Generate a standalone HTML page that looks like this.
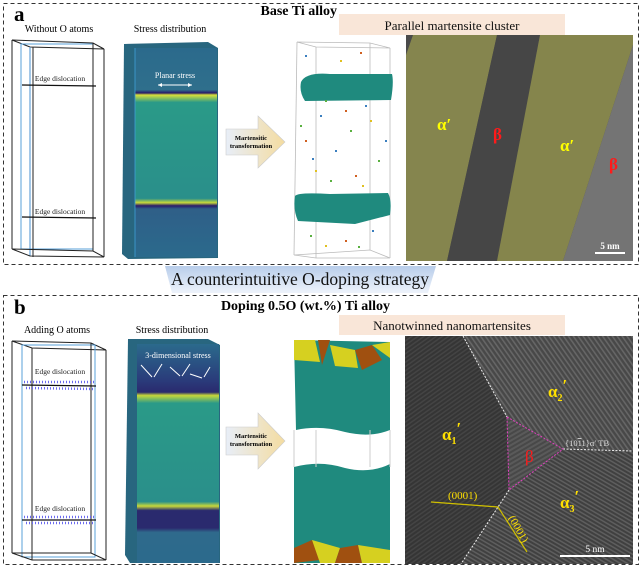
<!DOCTYPE html>
<html><head><meta charset="utf-8"><style>
html,body{margin:0;padding:0;background:#fff;width:641px;height:567px;overflow:hidden}
svg{display:block}
text{font-family:"Liberation Serif",serif}
</style></head><body>
<svg width="641" height="567" viewBox="0 0 641 567" xmlns="http://www.w3.org/2000/svg">
<defs>
<linearGradient id="stressA" x1="0" y1="0" x2="0" y2="1">
<stop offset="0" stop-color="#2b6a8c"/><stop offset="0.2" stop-color="#2f6f8c"/>
<stop offset="0.215" stop-color="#2a1a6a"/><stop offset="0.225" stop-color="#d8e03a"/>
<stop offset="0.26" stop-color="#2a9a88"/><stop offset="0.72" stop-color="#2a8f8a"/>
<stop offset="0.74" stop-color="#c8d83a"/><stop offset="0.755" stop-color="#2a1a6a"/>
<stop offset="0.77" stop-color="#2f5f88"/><stop offset="1" stop-color="#2b6a8c"/>
</linearGradient>
<linearGradient id="stressB" x1="0" y1="0" x2="0" y2="1">
<stop offset="0" stop-color="#2b6a8c"/><stop offset="0.17" stop-color="#2a3a7a"/>
<stop offset="0.22" stop-color="#2a2a6e"/><stop offset="0.235" stop-color="#c8d83a"/>
<stop offset="0.27" stop-color="#2a9a88"/><stop offset="0.72" stop-color="#2a8f8a"/>
<stop offset="0.74" stop-color="#c8d83a"/><stop offset="0.76" stop-color="#2a2a6e"/>
<stop offset="0.84" stop-color="#2a2a6e"/><stop offset="0.86" stop-color="#2f6a8c"/>
<stop offset="1" stop-color="#2b6a8c"/>
</linearGradient>
<linearGradient id="arrowG" x1="0" y1="0" x2="1" y2="0">
<stop offset="0" stop-color="#e8eef8"/><stop offset="1" stop-color="#f4dca0"/>
</linearGradient>
<linearGradient id="banner" x1="0" y1="0" x2="0" y2="1">
<stop offset="0" stop-color="#b8cdea"/><stop offset="1" stop-color="#eef3fb"/>
</linearGradient>
<pattern id="lat1" width="4" height="4" patternUnits="userSpaceOnUse" patternTransform="rotate(60)">
<rect width="4" height="4" fill="#484848"/><rect width="2" height="4" fill="#5a5a5a"/></pattern>
<pattern id="lat2" width="4" height="4" patternUnits="userSpaceOnUse" patternTransform="rotate(-35)">
<rect width="4" height="4" fill="#484848"/><rect width="1.6" height="4" fill="#666"/></pattern>
<pattern id="lat3" width="3.5" height="3.5" patternUnits="userSpaceOnUse" patternTransform="rotate(55)">
<rect width="4" height="4" fill="#353535"/><rect width="1.5" height="4" fill="#444"/></pattern>
<pattern id="lat4" width="3.5" height="3.5" patternUnits="userSpaceOnUse" patternTransform="rotate(-60)">
<rect width="4" height="4" fill="#404040"/><rect width="1.5" height="4" fill="#5e5e5e"/></pattern>
</defs>

<rect x="3.5" y="3.5" width="635" height="261" fill="none" stroke="#333" stroke-dasharray="4,3"/>
<rect x="3.5" y="295.5" width="635" height="269" fill="none" stroke="#333" stroke-dasharray="4,3"/>

<polygon points="165,266 436,266 428,293 172,293" fill="url(#banner)"/>
<text x="300" y="285" font-size="17.5" text-anchor="middle" fill="#111">A counterintuitive O-doping strategy</text>

<!-- ===== Panel a ===== -->
<text x="14" y="21" font-size="21" font-weight="bold">a</text>
<text x="337" y="15" font-size="14" font-weight="bold" text-anchor="end">Base Ti alloy</text>
<text x="59" y="32" font-size="10" text-anchor="middle">Without O atoms</text>
<text x="170" y="32" font-size="10" text-anchor="middle">Stress distribution</text>

<g fill="none" stroke-width="1">
<polygon points="12,40 93,43 104,49 30,47" stroke="#222"/>
<rect x="21" y="44" width="72" height="205" stroke="#5aa0d8"/>
<line x1="30" y1="47" x2="30" y2="256" stroke="#4a90d0"/>
<line x1="12" y1="40" x2="12" y2="249" stroke="#222"/>
<line x1="104" y1="49" x2="104" y2="257" stroke="#222"/>
<line x1="33" y1="47" x2="33" y2="257" stroke="#222"/>
<line x1="93" y1="43" x2="93" y2="251" stroke="#222"/>
<polygon points="12,249 93,251 104,257 30,256" stroke="#222"/>
<line x1="22" y1="85" x2="96" y2="86" stroke="#111" stroke-width="1.2"/>
<line x1="22" y1="217" x2="96" y2="218" stroke="#111" stroke-width="1.2"/>
</g>
<text x="60" y="81" font-size="7.5" text-anchor="middle" fill="#222">Edge dislocation</text>
<text x="60" y="214" font-size="7.5" text-anchor="middle" fill="#222">Edge dislocation</text>

<polygon points="124,44 208,42 218,48 218,258 128,259 122,254" fill="#28667f"/>
<rect x="135" y="48" width="82" height="209" fill="url(#stressA)"/>
<line x1="135" y1="48" x2="135" y2="257" stroke="#3fa0d8" stroke-width="0.8"/>
<text x="175" y="78" font-size="8" text-anchor="middle" fill="#fff">Planar stress</text>
<line x1="158" y1="85" x2="192" y2="85" stroke="#fff" stroke-width="1"/>
<path d="M158,85 l4,-2 v4z M192,85 l-4,-2 v4z" fill="#fff"/>

<polygon points="226,129 258,129 258,116 285,142 258,168 258,155 226,155" fill="url(#arrowG)" stroke="#ccc" stroke-width="0.6"/>
<text x="251" y="140" font-size="6.5" font-weight="bold" text-anchor="middle">Martensitic</text>
<text x="251" y="148" font-size="6.5" font-weight="bold" text-anchor="middle">transformation</text>

<g fill="none" stroke="#bbb" stroke-width="0.8">
<polygon points="297,42 370,43 390,48 316,47"/>
<line x1="297" y1="42" x2="294" y2="255"/>
<line x1="390" y1="48" x2="390" y2="258"/>
<line x1="316" y1="47" x2="316" y2="258"/>
<line x1="370" y1="43" x2="370" y2="250"/>
<polygon points="294,255 370,250 390,258 316,258"/>
</g>
<path d="M301,82 Q306,72 330,74 L392,74 Q394,82 391,100 L305,101 Q299,92 301,82Z" fill="#1f8a7e"/>
<path d="M295,196 Q298,192 330,194 L388,193 Q392,200 390,215 L355,224 L298,221 Q293,210 295,196Z" fill="#1f8a7e"/>
<g fill="#3b7fbf">
<rect x="305" y="55" width="2" height="2"/><rect x="340" y="60" width="2" height="2" fill="#e0c020"/><rect x="360" y="52" width="2" height="2" fill="#d06020"/>
<rect x="320" y="115" width="2" height="2"/><rect x="350" y="130" width="2" height="2" fill="#5ab040"/><rect x="370" y="120" width="2" height="2" fill="#e0c020"/>
<rect x="305" y="140" width="2" height="2" fill="#d06020"/><rect x="335" y="150" width="2" height="2"/><rect x="378" y="160" width="2" height="2" fill="#5ab040"/>
<rect x="315" y="170" width="2" height="2" fill="#e0c020"/><rect x="355" y="175" width="2" height="2" fill="#d06020"/><rect x="330" y="180" width="2" height="2" fill="#5ab040"/>
<rect x="310" y="235" width="2" height="2" fill="#5ab040"/><rect x="345" y="240" width="2" height="2" fill="#d06020"/><rect x="372" y="230" width="2" height="2"/>
<rect x="325" y="100" width="2" height="2" fill="#5ab040"/><rect x="365" y="105" width="2" height="2"/><rect x="300" y="125" width="2" height="2" fill="#5ab040"/>
<rect x="345" y="110" width="2" height="2" fill="#d06020"/><rect x="385" y="140" width="2" height="2"/><rect x="312" y="158" width="2" height="2"/>
<rect x="362" y="185" width="2" height="2" fill="#e0c020"/><rect x="325" y="245" width="2" height="2" fill="#e0c020"/><rect x="358" y="246" width="2" height="2" fill="#5ab040"/>
</g>

<rect x="339" y="14" width="226" height="21" fill="#f9e6d8"/>
<text x="452" y="30" font-size="13" text-anchor="middle" fill="#111">Parallel martensite cluster</text>

<rect x="406" y="35" width="227" height="226" fill="#4a4a4a"/>
<polygon points="413,35 497,35 447,261 406,261 406,55" fill="#85854e"/>
<polygon points="497,35 540,35 497,261 447,261" fill="#464646"/>
<polygon points="540,35 633,35 633,45 563,261 497,261" fill="#85854c"/>
<polygon points="633,45 633,261 563,261" fill="#747474"/>
<text x="437" y="130" font-size="17" fill="#ffff00" font-weight="bold">α′</text>
<text x="493" y="140" font-size="17" fill="#ff1a1a" font-weight="bold">β</text>
<text x="560" y="151" font-size="17" fill="#ffff00" font-weight="bold">α′</text>
<text x="609" y="170" font-size="17" fill="#ff1a1a" font-weight="bold">β</text>
<line x1="595" y1="253" x2="625" y2="253" stroke="#fff" stroke-width="2"/>
<text x="610" y="249" font-size="9" font-weight="bold" fill="#fff" text-anchor="middle">5 nm</text>

<!-- ===== Panel b ===== -->
<text x="14" y="314" font-size="21" font-weight="bold">b</text>
<text x="390" y="310" font-size="14" font-weight="bold" text-anchor="end">Doping 0.5O (wt.%) Ti alloy</text>
<text x="57" y="333" font-size="10" text-anchor="middle">Adding O atoms</text>
<text x="172" y="333" font-size="10" text-anchor="middle">Stress distribution</text>

<g fill="none" stroke-width="1">
<polygon points="12,341 91,343 106,350 32,348" stroke="#222"/>
<rect x="22" y="345" width="73" height="212" stroke="#5aa0d8"/>
<line x1="32" y1="348" x2="32" y2="560" stroke="#222"/>
<line x1="12" y1="341" x2="12" y2="553" stroke="#222"/>
<line x1="106" y1="350" x2="106" y2="560" stroke="#222"/>
<line x1="91" y1="343" x2="91" y2="553" stroke="#222"/>
<polygon points="12,553 91,553 106,560 32,560" stroke="#222"/>
<line x1="22" y1="385" x2="96" y2="386" stroke="#111" stroke-width="1.2"/>
<line x1="22" y1="520" x2="96" y2="520" stroke="#111" stroke-width="1.2"/>
</g>
<g stroke="#6a6af0" stroke-width="2.5" stroke-dasharray="1,2">
<line x1="24" y1="382" x2="95" y2="382"/><line x1="26" y1="388" x2="94" y2="389"/>
<line x1="24" y1="517" x2="95" y2="517"/><line x1="26" y1="523" x2="94" y2="523"/>
</g>
<text x="60" y="374" font-size="7.5" text-anchor="middle" fill="#222">Edge dislocation</text>
<text x="60" y="511" font-size="7.5" text-anchor="middle" fill="#222">Edge dislocation</text>

<polygon points="128,339 208,339 220,345 220,563 130,563 125,555" fill="#28667f"/>
<rect x="137" y="344" width="82" height="219" fill="url(#stressB)"/>
<text x="178" y="358" font-size="8" text-anchor="middle" fill="#fff">3-dimensional stress</text>
<g stroke="#fff" stroke-width="1">
<line x1="141" y1="365" x2="152" y2="377"/><line x1="162" y1="364" x2="154" y2="377"/>
<line x1="170" y1="367" x2="180" y2="376"/><line x1="190" y1="364" x2="182" y2="376"/>
<line x1="190" y1="374" x2="202" y2="378"/><line x1="210" y1="367" x2="204" y2="377"/>
</g>

<polygon points="226,427 258,427 258,413 285,441 258,469 258,455 226,455" fill="url(#arrowG)" stroke="#ccc" stroke-width="0.6"/>
<text x="251" y="438" font-size="6.5" font-weight="bold" text-anchor="middle">Martensitic</text>
<text x="251" y="446" font-size="6.5" font-weight="bold" text-anchor="middle">transformation</text>

<path d="M294,340 L390,342 L390,430 Q370,438 345,432 Q320,425 296,430 Z" fill="#1f8a7e"/>
<polygon points="294,340 315,340 320,362 294,360" fill="#d6d020"/>
<polygon points="318,340 330,340 322,365" fill="#a05010"/>
<polygon points="330,345 355,350 358,368 335,366" fill="#d6d020"/>
<polygon points="355,350 372,345 382,360 362,370" fill="#a05010"/>
<polygon points="372,345 390,342 390,358" fill="#d6d020"/>
<path d="M294,467 Q320,460 345,468 Q370,474 390,464 L390,563 L294,563 Z" fill="#1f8a7e"/>
<polygon points="294,548 312,540 320,560 294,563" fill="#a05010"/>
<polygon points="312,540 340,548 335,563 320,563" fill="#d6d020"/>
<polygon points="340,548 358,545 362,563 335,563" fill="#a05010"/>
<polygon points="358,545 390,550 390,563 362,563" fill="#d6d020"/>
<line x1="294" y1="430" x2="294" y2="467" stroke="#ccc"/>
<line x1="316" y1="430" x2="316" y2="467" stroke="#ccc"/>
<line x1="370" y1="430" x2="370" y2="467" stroke="#ccc"/>
<line x1="390" y1="430" x2="390" y2="467" stroke="#ccc"/>

<rect x="339" y="315" width="226" height="20" fill="#f9e6d8"/>
<text x="452" y="330" font-size="13" text-anchor="middle" fill="#111">Nanotwinned nanomartensites</text>

<rect x="405" y="336" width="228" height="228" fill="url(#lat3)"/>
<polygon points="463,336 633,336 633,451 563,449 507,417" fill="url(#lat2)"/>
<polygon points="563,449 633,451 633,564 461,564 509,490" fill="url(#lat4)"/>
<polygon points="507,417 563,449 509,490" fill="url(#lat1)"/>
<g fill="none" stroke="#eee" stroke-width="1" stroke-dasharray="2,1.5">
<polyline points="463,336 507,417"/>
<polyline points="509,490 461,564"/>
<line x1="563" y1="449" x2="632" y2="451"/>
</g>
<polygon points="507,417 563,449 509,490" fill="none" stroke="#e040c0" stroke-width="1" stroke-dasharray="2,1.5"/>
<text x="525" y="462" font-size="17" fill="#ff1a1a">β</text>
<text x="442" y="440" font-size="17" fill="#ffe000" font-weight="bold">α<tspan font-size="10" dy="4">1</tspan><tspan dy="-10">′</tspan></text>
<text x="548" y="397" font-size="17" fill="#ffe000" font-weight="bold">α<tspan font-size="10" dy="4">2</tspan><tspan dy="-10">′</tspan></text>
<text x="560" y="508" font-size="17" fill="#ffe000" font-weight="bold">α<tspan font-size="10" dy="4">3</tspan><tspan dy="-10">′</tspan></text>
<text x="565" y="446" font-size="8.5" fill="#ddd">{10<tspan text-decoration="overline">1</tspan>1}α′ TB</text>
<text x="448" y="499" font-size="11" fill="#ffe000">(0001)</text>
<polyline points="431,502 498,507 527,552" fill="none" stroke="#d0c000" stroke-width="1.2"/>
<text x="508" y="518" font-size="11" fill="#ffe000" transform="rotate(60 508 518)">(0001)</text>
<line x1="560" y1="556" x2="630" y2="556" stroke="#fff" stroke-width="2"/>
<text x="595" y="552" font-size="9.5" fill="#fff" text-anchor="middle">5 nm</text>
</svg>
</body></html>
